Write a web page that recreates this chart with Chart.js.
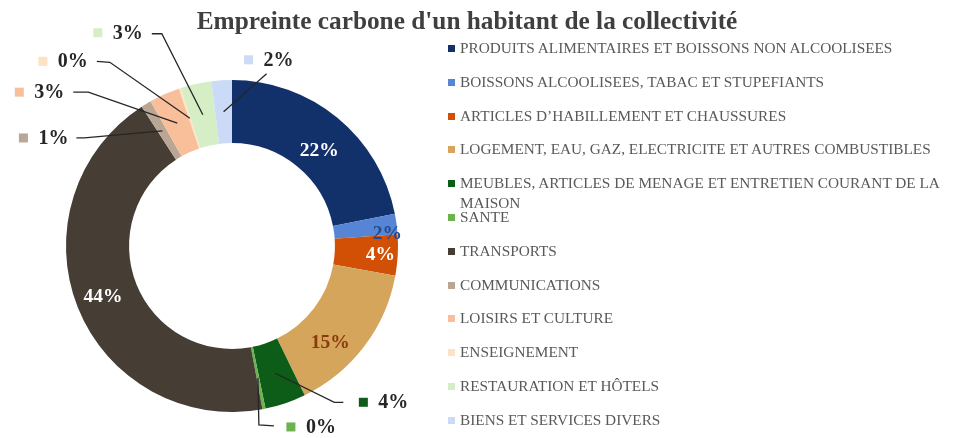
<!DOCTYPE html>
<html>
<head>
<meta charset="utf-8">
<script src="https://cdn.jsdelivr.net/npm/chart.js@4.4.1/dist/chart.umd.min.js"></script>
<style>
  html, body { margin: 0; padding: 0; background: #fff; }
  #wrap { position: relative; width: 976px; height: 438px; overflow: hidden; font-family: "Liberation Serif", "Times New Roman", serif; }
  #chart { position: absolute; left: 0; top: 0; }
  #title { position: absolute; left: 0; width: 934px; top: 5px; text-align: center; font-weight: bold; font-size: 25.3px; line-height: 30px; color: #3f3f3f; }
  #legend { position: absolute; left: 448px; top: 0; }
  .item { position: absolute; left: 0; display: flex; align-items: flex-start; width: 510px; font-size: 15.3px; line-height: 20px; color: #595959; }
  .item i { display: block; width: 7px; height: 7px; margin: 7px 5px 0 0; flex: none; }
</style>
</head>
<body>
<div id="wrap">
  <canvas id="chart" width="976" height="438"></canvas>
  <div id="title">Empreinte carbone d'un habitant de la collectivité</div>
  <div id="legend"></div>
</div>
<script>
  const categories = [
    'PRODUITS ALIMENTAIRES ET BOISSONS NON ALCOOLISEES',
    'BOISSONS ALCOOLISEES, TABAC ET STUPEFIANTS',
    'ARTICLES D\u2019HABILLEMENT ET CHAUSSURES',
    'LOGEMENT, EAU, GAZ, ELECTRICITE ET AUTRES COMBUSTIBLES',
    'MEUBLES, ARTICLES DE MENAGE ET ENTRETIEN COURANT DE LA MAISON',
    'SANTE',
    'TRANSPORTS',
    'COMMUNICATIONS',
    'LOISIRS ET CULTURE',
    'ENSEIGNEMENT',
    'RESTAURATION ET HÔTELS',
    'BIENS ET SERVICES DIVERS'
  ];
  // parts en % (les 0% sont de tres petites parts)
  const shares = [22, 2, 4, 15, 4, 0.3, 44, 1, 3, 0.2, 3, 2];
  const colors = [
    '#12306a', '#5585d4', '#d24f06', '#d5a55c', '#0d5c18', '#6cb24e',
    '#463d34', '#b9a695', '#f9bf9b', '#fde3c3', '#d5eec6', '#cbdaf6'
  ];

  // position des etiquettes (decalages depuis le milieu de chaque part)
  const labelStyle = [
    { inside: true, dx: 2, dy: 9, color: '#ffffff' },
    { inside: true, dx: 22, dy: 6, color: '#264a8e' },
    { inside: true, dx: 14, dy: 2, color: '#ffffff' },
    { inside: true, dx: -9, dy: 16, color: '#8a3b0c' },
    { elbow: [59, 29], end: [68, 29], box: [88, 29] },
    { elbow: [1, 47], end: [16, 48], box: [33, 49] },
    { inside: true, dx: -4, dy: 1, color: '#ffffff' },
    { elbow: [-78, 7], end: [-86, 7], box: [-139, 7] },
    { elbow: [-89, -31], end: [-104, -31], box: [-158, -31] },
    { elbow: [-80, -56], end: [-93, -57], box: [-147, -57] },
    { elbow: [-41, -81], end: [-51, -81], box: [-105, -82] },
    { elbow: [43, -38], end: [43, -38], box: [25, -52] }
  ];

  const sliceLabels = {
    id: 'sliceLabels',
    afterDatasetsDraw(chart) {
      const ctx = chart.ctx;
      const meta = chart.getDatasetMeta(0);
      const total = shares.reduce((a, b) => a + b, 0);
      meta.data.forEach((arc, i) => {
        const p = arc.getProps(['x', 'y', 'startAngle', 'endAngle', 'innerRadius', 'outerRadius'], true);
        const mid = (p.startAngle + p.endAngle) / 2;
        const r = (p.innerRadius + p.outerRadius) / 2;
        const ax = p.x + Math.cos(mid) * r;
        const ay = p.y + Math.sin(mid) * r;
        const text = Math.round(shares[i] / total * 100) + '%';
        const s = labelStyle[i];
        ctx.save();
        ctx.textBaseline = 'middle';
        if (s.inside) {
          ctx.font = 'bold 19.5px "Liberation Serif"';
          ctx.fillStyle = s.color;
          ctx.textAlign = 'center';
          ctx.fillText(text, ax + s.dx, ay + s.dy);
        } else {
          ctx.font = 'bold 20px "Liberation Serif"';
          ctx.strokeStyle = '#262626';
          ctx.lineWidth = 1.3;
          ctx.beginPath();
          ctx.moveTo(ax, ay);
          ctx.lineTo(ax + s.elbow[0], ay + s.elbow[1]);
          ctx.lineTo(ax + s.end[0], ay + s.end[1]);
          ctx.stroke();
          const bx = ax + s.box[0], by = ay + s.box[1];
          ctx.fillStyle = colors[i];
          ctx.fillRect(bx - 4.5, by - 4.5, 9, 9);
          ctx.fillStyle = '#262626';
          ctx.textAlign = 'left';
          ctx.fillText(text, bx + 15, by + 1);
        }
        ctx.restore();
      });
    }
  };

  // legende a droite
  const legend = document.getElementById('legend');
  categories.forEach((name, i) => {
    const row = document.createElement('div');
    row.className = 'item';
    row.style.top = (48 + 33.8 * i - 10) + 'px';
    const mark = document.createElement('i');
    mark.style.background = colors[i];
    const label = document.createElement('span');
    label.textContent = name;
    row.appendChild(mark);
    row.appendChild(label);
    legend.appendChild(row);
  });

  new Chart(document.getElementById('chart'), {
    type: 'doughnut',
    data: {
      labels: categories,
      datasets: [{
        data: shares,
        backgroundColor: colors,
        borderWidth: 0
      }]
    },
    options: {
      responsive: false,
      animation: false,
      cutout: '62%',
      layout: { padding: { left: 66, right: 578, top: 80, bottom: 26 } },
      plugins: {
        legend: { display: false },
        tooltip: { enabled: false },
        title: { display: false }
      }
    },
    plugins: [sliceLabels]
  });
</script>
</body>
</html>
